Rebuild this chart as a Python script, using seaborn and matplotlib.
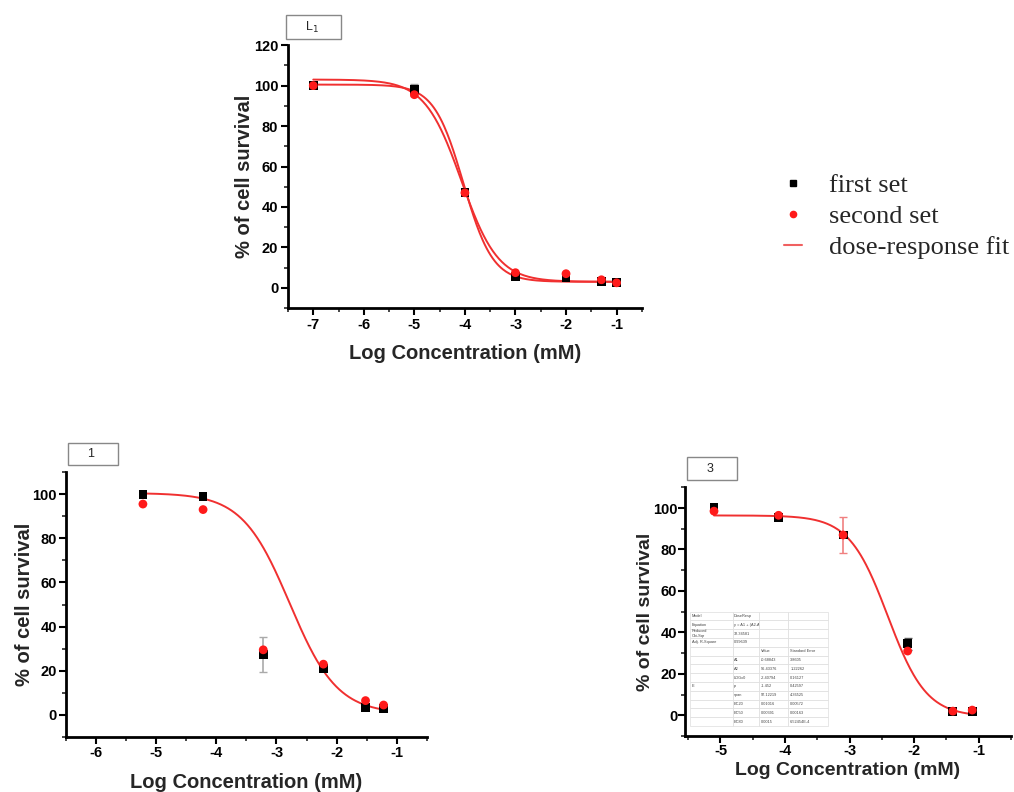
import numpy as np
import pandas as pd
import matplotlib
matplotlib.use('Agg')
import matplotlib.pyplot as plt
from matplotlib.lines import Line2D
from matplotlib.patches import Rectangle
import seaborn as sns

# ---- data ----
# panel L1
l1_x = [-7, -5, -4, -3, -2, -1.3, -1]
l1_first = [100, 98, 47, 5.5, 5, 3, 2.5]
l1_second = [100, 95.5, 47, 7.5, 7, 4, 2.5]
l1_err_x = [-5]
l1_err_y = [98]
l1_err = [3]
# two fits: (A1, A2, LOGx0, p)
l1_fits = [(3, 100.5, -4.03, -1.5), (3, 103, -4.07, -1.2)]

# panel 1
c1_x = [-5.22, -4.22, -3.22, -2.22, -1.52, -1.22]
c1_first = [100, 99, 27.5, 21, 3.5, 3]
c1_second = [95.5, 93, 29.5, 23, 6.5, 4.5]
c1_err_x = [-3.22]
c1_err_y = [27.5]
c1_err = [8]
c1_fits = [(0.5, 100.5, -2.78, -1.1)]

# panel 3
c3_x = [-5.1, -4.1, -3.1, -2.1, -1.4, -1.1]
c3_first = [100.5, 95.5, 87, 34.5, 2, 2]
c3_second = [98.5, 96.5, 87, 31, 2, 2.5]
c3_err_x = [-3.1, -2.1]
c3_err_y = [87, 34.5]
c3_err = [8.5, 3]
c3_fits = [(-0.68843, 96.43376, -2.40794, -1.452)]

table_rows = [
    ['Model', 'DoseResp', '', ''],
    ['Equation', 'y = A1 + (A2-A1)/(1 + 10^((LOGx0-x)*p))', '', ''],
    ['Reduced\nChi-Sqr', '32.34581', '', ''],
    ['Adj. R-Square', '0.99639', '', ''],
    ['', '', 'Value', 'Standard Error'],
    ['', 'A1', '-0.68843', '3.8605'],
    ['', 'A2', '96.43376', '1.22262'],
    ['', 'LOGx0', '-2.40794', '0.16127'],
    ['E', 'p', '-1.452', '0.42597'],
    ['', 'span', '97.12219', '4.36525'],
    ['', 'EC20', '0.01016', '0.00572'],
    ['', 'EC50', '0.00391', '0.00163'],
    ['', 'EC80', '0.0015', '6.52454E-4'],
]

sns.set_theme(style='ticks')
plt.rcParams['font.family'] = ['Liberation Sans', 'DejaVu Sans']

FIT_RED = '#f03030'


def dose_resp(x, a1, a2, logx0, p):
    return a1 + (a2 - a1) / (1 + 10 ** ((logx0 - x) * p))


def draw_panel(ax, xs, first, second, err_x, err_y, err, err_colors, fits,
               xlim, ylim, xticks, yticks, lab_size, xpad, ypad, tpad):
    df = pd.DataFrame({
        'x': xs + xs,
        'y': first + second,
        'set': ['first set'] * len(xs) + ['second set'] * len(xs),
    })
    for (a1, a2, lx, p) in fits:
        xx = np.linspace(min(xs), max(xs), 300)
        sns.lineplot(x=xx, y=dose_resp(xx, a1, a2, lx, p), ax=ax,
                     color=FIT_RED, lw=1.4, zorder=2)
    for ex, ey, e, c in zip(err_x, err_y, err, err_colors):
        ax.errorbar([ex], [ey], yerr=[e], fmt='none', ecolor=c,
                    elinewidth=1.2, capsize=3, zorder=1)
    sns.scatterplot(data=df, x='x', y='y', hue='set', style='set',
                    palette={'first set': 'black', 'second set': '#ff1a1a'},
                    markers={'first set': 's', 'second set': 'o'},
                    s=40, linewidth=0, ax=ax, legend=False, zorder=3)
    ax.set_xlim(*xlim)
    ax.set_ylim(*ylim)
    ax.set_xticks(xticks)
    ax.set_yticks(yticks)
    ax.set_xticks(np.arange(xticks[0] - 0.5, xlim[1] + 0.01, 0.5), minor=True)
    ax.set_yticks(np.arange(-10, ylim[1] + 0.1, 10), minor=True)
    ax.set_xticklabels([f'{t:g}' for t in xticks])
    ax.tick_params(which='major', direction='out', length=5, width=1.5,
                   labelsize=10.5, colors='black', pad=tpad)
    ax.tick_params(which='minor', direction='out', length=3, width=1.2)
    for lbl in ax.get_xticklabels() + ax.get_yticklabels():
        lbl.set_fontweight('bold')
    for s in ['left', 'bottom']:
        ax.spines[s].set_linewidth(2)
        ax.spines[s].set_color('black')
    sns.despine(ax=ax)
    ax.set_xlabel('Log Concentration (mM)', fontsize=lab_size, fontweight='bold', labelpad=xpad)
    ax.set_ylabel('% of cell survival', fontsize=lab_size, fontweight='bold', labelpad=ypad)


fig = plt.figure(figsize=(10.14, 7.92), dpi=100)

ax_top = fig.add_axes([0.284, 0.611, 0.349, 0.332])
draw_panel(ax_top, l1_x, l1_first, l1_second, l1_err_x, l1_err_y, l1_err, ['#999999'],
           l1_fits, (-7.5, -0.5), (-10, 120), [-7, -6, -5, -4, -3, -2, -1],
           [0, 20, 40, 60, 80, 100, 120], 14.5, 9, 0, 2)

ax_bl = fig.add_axes([0.065, 0.0694, 0.356, 0.3346])
draw_panel(ax_bl, c1_x, c1_first, c1_second, c1_err_x, c1_err_y, c1_err, ['#aaaaaa'],
           c1_fits, (-6, -0.5), (-10, 110), [-6, -5, -4, -3, -2, -1],
           [0, 20, 40, 60, 80, 100], 14.5, 9, -1, 1.5)

ax_br = fig.add_axes([0.6755, 0.0707, 0.3215, 0.314])
draw_panel(ax_br, c3_x, c3_first, c3_second, c3_err_x, c3_err_y, c3_err,
           ['#f08080', '#555555'], c3_fits, (-5.55, -0.5), (-10, 110),
           [-5, -4, -3, -2, -1], [0, 20, 40, 60, 80, 100], 14, 3, -1, 0.5)

# fit report table inside panel 3
tab = ax_br.table(cellText=table_rows, bbox=[0.015, 0.04, 0.425, 0.46],
                  colWidths=[0.31, 0.19, 0.21, 0.29], cellLoc='left')
tab.auto_set_font_size(False)
for (r, c), cell in tab.get_celld().items():
    cell.set_edgecolor('#dddddd')
    cell.set_linewidth(0.5)
    cell.set_facecolor('white')
    cell.get_text().set_fontsize(2.8)
    cell.get_text().set_color('#444444')
    cell.PAD = 0.05
    if c >= 2 and r >= 4:
        cell._loc = 'right'
tab.set_zorder(5)

# panel name boxes
for (x0, y0, w, h, txt) in [(286, 15, 55, 24, 'L$_1$'), (68, 443, 50, 22, '1'),
                            (687, 457, 50, 23, '3')]:
    fig.patches.append(Rectangle((x0 / 1014, 1 - (y0 + h) / 792), w / 1014, h / 792,
                                 transform=fig.transFigure, facecolor='white',
                                 edgecolor='#888888', lw=1))
    fig.text((x0 + w / 2 - 2) / 1014, 1 - (y0 + h / 2) / 792, txt,
             ha='center', va='center', fontsize=9, family='Liberation Sans')

handles = [
    Line2D([], [], ls='none', marker='s', color='black', markersize=4),
    Line2D([], [], ls='none', marker='o', color='#ff1a1a', markersize=4.5),
    Line2D([], [], color='#f06060', lw=1.5),
]
fig.legend(handles, ['first set', 'second set', 'dose-response fit'],
           loc='upper left', bbox_to_anchor=(760 / 1014, 1 - 150 / 792),
           frameon=False, handlelength=0.7, handletextpad=1.0, labelspacing=0.28,
           prop={'family': 'Liberation Serif', 'size': 19})

fig.savefig('out.png', dpi=100)
